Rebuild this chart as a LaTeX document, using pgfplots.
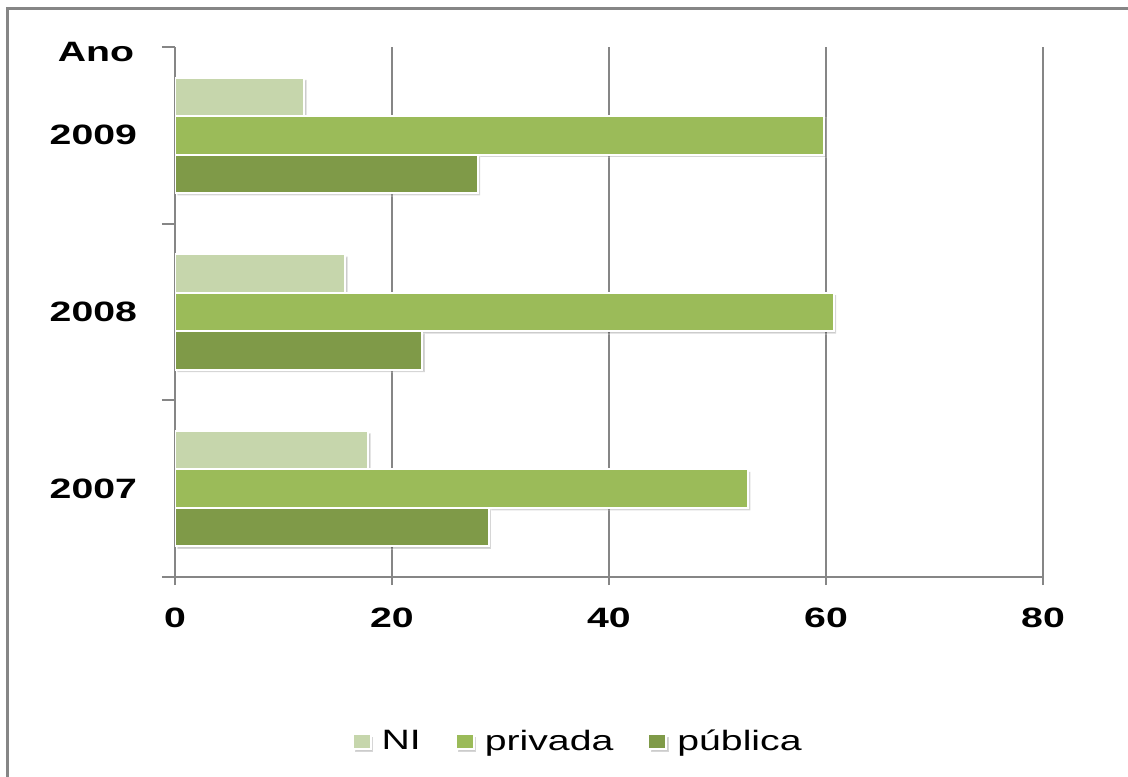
\documentclass[border=0pt]{standalone}
\usepackage{pgfplots}
\pgfplotsset{compat=1.18}
\usepackage{fontspec}
\setmainfont{Liberation Sans}[FakeStretch=1.4]
\usetikzlibrary{shadows}
\definecolor{niC}{HTML}{C6D6AC}
\definecolor{prC}{HTML}{9BBB59}
\definecolor{puC}{HTML}{7F9A48}
\definecolor{lineC}{HTML}{868686}

\begin{document}
\begin{tikzpicture}[x=1pt,y=1pt]
\useasboundingbox (0,0) rectangle (564,388);
\clip (0,0) rectangle (564,388);
% outer frame of the chart area
\draw[lineC, line width=1.5pt] (3.5,-10) -- (3.5,383.5) -- (580,383.5);
\begin{axis}[
  at={(87.5pt,99.5pt)}, anchor=south west,
  scale only axis, width=434pt, height=265pt,
  xbar, bar width=0.218,
  xmin=0, xmax=80, ymin=-0.5, ymax=2.5,
  enlargelimits=false,
  axis lines=left,
  axis line style={-, lineC, line width=1pt},
  xmajorgrids, grid style={lineC, line width=1pt},
  xtick={0,20,40,60,80},
  xticklabels={0,20,40,60,80},
  ytick={0,1,2},
  yticklabels={2007,2008,2009},
  minor ytick={-0.5,0.5,1.5,2.5},
  tick align=outside,
  major tick length=4pt,
  minor tick length=6.5pt,
  major y tick style={draw=none},
  tick style={lineC, line width=1pt},
  /pgf/number format/assume math mode=true,
  ticklabel style={font=\fontsize{14}{16}\selectfont\bfseries},
  xticklabel style={yshift=-8pt},
  yticklabel style={xshift=-11.5pt},
  legend style={at={(0.465,-0.311)}, anchor=center, draw=none, fill=none,
    legend columns=3, font=\fontsize{14}{16}\selectfont,
    /tikz/every odd column/.append style={column sep=3pt},
    /tikz/every even column/.append style={column sep=15pt}},
  legend image code/.code={\fill[#1] (0pt,-3.75pt) rectangle (9pt,3.75pt);},
  every axis plot/.append style={draw=white, line width=1pt,
    drop shadow={shadow xshift=1.2pt, shadow yshift=-1.2pt, fill=black, opacity=0.2}},
]
\addplot[fill=niC, bar shift=0.218] coordinates {(17.8,0) (15.7,1) (11.9,2)};
\addplot[fill=prC, bar shift=0] coordinates {(52.8,0) (60.7,1) (59.8,2)};
\addplot[fill=puC, bar shift=-0.218] coordinates {(28.9,0) (22.8,1) (27.9,2)};
\legend{NI, privada, pública}
\end{axis}
\node[font=\fontsize{14}{16}\selectfont\bfseries] at (48,362) {Ano};
\end{tikzpicture}
\end{document}
